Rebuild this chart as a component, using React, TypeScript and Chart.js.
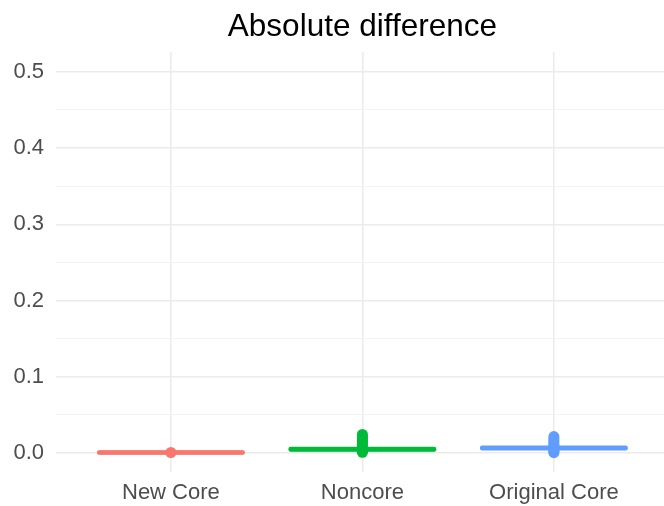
import React, { useEffect, useRef } from "react";
import { Chart, registerables } from "chart.js";

Chart.register(...registerables);

const title = "Absolute difference";
const categories = ["New Core", "Noncore", "Original Core"];
const colors = ["#F8766D", "#00BA38", "#619CFF"];
// box statistics (lower hinge, median, upper hinge)
const boxLower = [0.0004, 0.0042, 0.0058];
const boxMedian = [0.0006, 0.0048, 0.0065];
const boxUpper = [0.0008, 0.0054, 0.0072];
// outliers per category
const outliersNewCore = [0.0006];
const outliersNoncore = [0.0008, 0.002, 0.0035, 0.005, 0.007, 0.009, 0.0115, 0.014, 0.0165, 0.019, 0.0215, 0.0242];
const outliersOriginalCore = [0.0003, 0.0015, 0.003, 0.0045, 0.0065, 0.0085, 0.011, 0.0135, 0.016, 0.0185, 0.0215];
const yMajorTicks = [0, 0.1, 0.2, 0.3, 0.4, 0.5];
const yMinorTicks = [0.05, 0.15, 0.25, 0.35, 0.45];

const outlierLists = [outliersNewCore, outliersNoncore, outliersOriginalCore];
const HALF_BOX = 0.375;
const FONT = '"Liberation Sans", Arial, Helvetica, sans-serif';

const titlePlugin = {
  id: "panelTitle",
  afterDraw(chart: any) {
    const ctx = chart.ctx;
    const xs = chart.scales.x;
    ctx.save();
    ctx.font = `31.5px ${FONT}`;
    ctx.fillStyle = "#000000";
    ctx.textAlign = "center";
    ctx.textBaseline = "alphabetic";
    ctx.fillText(title, xs.getPixelForValue(2), 36);
    ctx.restore();
  },
};

export default function App() {
  const ref = useRef<HTMLCanvasElement | null>(null);

  useEffect(() => {
    if (!ref.current) return;
    const datasets: any[] = [];
    categories.forEach((c, i) => {
      const x = i + 1;
      datasets.push({
        label: c + " outliers",
        data: outlierLists[i].map((v) => ({ x, y: v })),
        backgroundColor: colors[i],
        borderColor: colors[i],
        pointRadius: 5.5,
        pointBorderWidth: 0,
        showLine: false,
      });
      datasets.push({
        label: c + " box",
        data: [
          { x: x - HALF_BOX, y: boxLower[i] },
          { x: x + HALF_BOX, y: boxLower[i] },
          { x: x + HALF_BOX, y: boxUpper[i] },
          { x: x - HALF_BOX, y: boxUpper[i] },
          { x: x - HALF_BOX, y: boxLower[i] },
        ],
        borderColor: colors[i],
        backgroundColor: colors[i],
        borderWidth: 4,
        borderCapStyle: "round",
        borderJoinStyle: "round",
        pointRadius: 0,
        showLine: true,
        fill: false,
      });
      datasets.push({
        label: c + " median",
        data: [
          { x: x - HALF_BOX, y: boxMedian[i] },
          { x: x + HALF_BOX, y: boxMedian[i] },
        ],
        borderColor: colors[i],
        borderWidth: 4,
        borderCapStyle: "round",
        pointRadius: 0,
        showLine: true,
      });
    });

    const chart = new Chart(ref.current, {
      type: "scatter",
      data: { datasets },
      plugins: [titlePlugin],
      options: {
        animation: false,
        responsive: false,
        devicePixelRatio: 1,
        layout: { autoPadding: false, padding: { top: 52, left: 0, right: 0, bottom: 0 } },
        plugins: {
          legend: { display: false },
          tooltip: { enabled: false },
          title: { display: false },
        },
        scales: {
          x: {
            type: "linear",
            min: 0.4,
            max: 3.575,
            afterBuildTicks: (s: any) => {
              s.ticks = categories.map((_, i) => ({ value: i + 1 }));
            },
            afterFit: (s: any) => {
              s.height = 34;
            },
            border: { display: false },
            grid: { color: "#EBEBEB", lineWidth: 1.5, drawTicks: false },
            ticks: {
              autoSkip: false,
              maxRotation: 0,
              padding: 8,
              color: "#4D4D4D",
              font: { size: 22, family: FONT },
              callback: (v: any) => categories[Math.round(Number(v)) - 1] ?? "",
            },
          },
          y: {
            type: "linear",
            min: -0.025,
            max: 0.526,
            afterBuildTicks: (s: any) => {
              s.ticks = [...yMajorTicks, ...yMinorTicks]
                .sort((a, b) => a - b)
                .map((v) => ({ value: v }));
            },
            afterFit: (s: any) => {
              s.width = 56;
            },
            border: { display: false },
            grid: {
              drawTicks: false,
              color: (ctx: any) =>
                yMajorTicks.some((t) => Math.abs(t - ctx.tick.value) < 1e-9) ? "#EBEBEB" : "#F3F3F3",
              lineWidth: (ctx: any) =>
                yMajorTicks.some((t) => Math.abs(t - ctx.tick.value) < 1e-9) ? 1.5 : 1,
            },
            ticks: {
              padding: 12,
              color: "#4D4D4D",
              font: { size: 22, family: FONT },
              callback: (v: any) => {
                const n = Number(v);
                return yMajorTicks.some((t) => Math.abs(t - n) < 1e-9) ? n.toFixed(1) : "";
              },
            },
          },
        },
      } as any,
    });
    return () => chart.destroy();
  }, []);

  return (
    <div style={{ position: "absolute", left: 0, top: 0, width: 664, height: 506, background: "#fff" }}>
      <canvas ref={ref} width={664} height={506} style={{ display: "block" }} />
    </div>
  );
}
